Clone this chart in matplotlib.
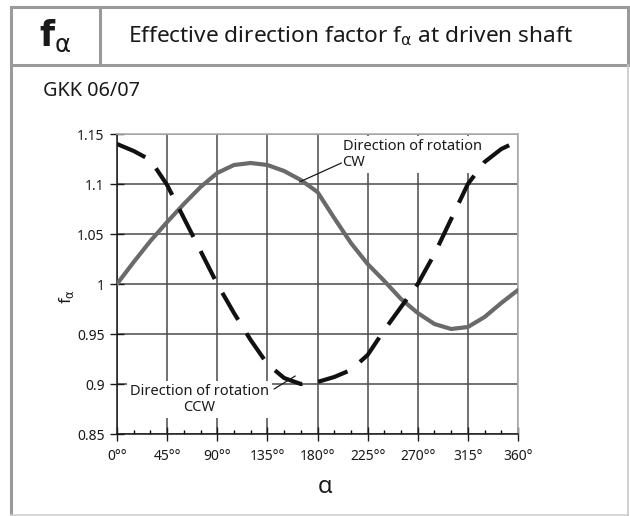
import numpy as np
import matplotlib
matplotlib.use('Agg')
import matplotlib.pyplot as plt
from matplotlib.patches import Rectangle
from matplotlib.lines import Line2D

plt.rcParams['font.family'] = ['Noto Sans', 'DejaVu Sans']
plt.rcParams['mathtext.fontset'] = 'dejavusans'

# angle of driven shaft (deg)
angles = [0, 15, 30, 45, 60, 75, 90, 105, 120, 135, 150, 165, 180,
          195, 210, 225, 240, 255, 270, 285, 300, 315, 330, 345, 360]
# direction of rotation CW
cw_vals = [1.000, 1.022, 1.043, 1.062, 1.080, 1.097, 1.111, 1.119, 1.121,
           1.119, 1.113, 1.104, 1.092, 1.066, 1.041, 1.020, 1.003, 0.985,
           0.971, 0.960, 0.955, 0.957, 0.967, 0.981, 0.994]
# direction of rotation CCW
ccw_vals = [1.140, 1.133, 1.124, 1.099, 1.066, 1.033, 1.000, 0.971, 0.944,
            0.920, 0.906, 0.900, 0.902, 0.907, 0.914, 0.929, 0.954, 0.977,
            1.000, 1.030, 1.065, 1.100, 1.122, 1.135, 1.143]

x_ticks = [0, 45, 90, 135, 180, 225, 270, 315, 360]
x_labels = ['0°°', '45°°', '90°°', '135°°', '180°°', '225°°', '270°°', '315°', '360°']
y_ticks = [0.85, 0.9, 0.95, 1.0, 1.05, 1.1, 1.15]
y_labels = ['0.85', '0.9', '0.95', '1', '1.05', '1.1', '1.15']

W, H = 630, 516
fig = plt.figure(figsize=(W / 100, H / 100), dpi=100)
txt_col = '#1a1a1a'

# frame and header drawn in pixel coords
bg = fig.add_axes([0, 0, 1, 1])
bg.set_xlim(0, W)
bg.set_ylim(H, 0)
bg.axis('off')
frame_col = '#9a9a9a'
bg.add_patch(Rectangle((11, 7), 617, 58, fill=False, ec=frame_col, lw=2.2))
bg.add_line(Line2D([100, 100], [7, 65], color=frame_col, lw=2.2))
bg.add_line(Line2D([11, 11], [65, 515], color=frame_col, lw=2.2))
bg.add_line(Line2D([11, 628], [515, 515], color='#d0d0d0', lw=1.2))
bg.add_line(Line2D([628, 628], [65, 515], color='#c8c8c8', lw=1.2))
bg.text(55, 36, r'$\mathbf{f}_{\mathrm{\alpha}}$', fontsize=25, ha='center',
        va='center', color=txt_col)
bg.text(128, 36, r'Effective direction factor f$_{\mathrm{\alpha}}$ at driven shaft',
        fontsize=16.3, ha='left', va='center', color=txt_col)
bg.text(43, 91, 'GKK 06/07', fontsize=14.3, ha='left', va='center', color=txt_col)

# main chart
ax = fig.add_axes([117 / W, 1 - 434 / H, 401 / W, 300 / H])
ax.set_xlim(0, 360)
ax.set_ylim(0.85, 1.15)

ax.set_xticks(x_ticks)
ax.set_xticklabels(x_labels)
ax.set_xticks(np.arange(0, 361, 15), minor=True)
ax.set_yticks(y_ticks)
ax.set_yticklabels(y_labels)
ax.tick_params(axis='x', which='major', direction='inout', length=10, width=1,
               labelsize=10, pad=6, colors=txt_col)
ax.tick_params(axis='x', which='minor', direction='in', length=3, width=1)
ax.tick_params(axis='y', which='major', direction='inout', length=10, width=1,
               labelsize=10, pad=4, colors=txt_col)
ax.grid(True, which='major', color='#4a4a4a', lw=1.1, zorder=1)
ax.set_axisbelow(True)

for s in ['top', 'right']:
    ax.spines[s].set_color('#b0b0b0')
    ax.spines[s].set_linewidth(1.2)
for s in ['left', 'bottom']:
    ax.spines[s].set_color(txt_col)
    ax.spines[s].set_linewidth(1.1)

ax.plot(angles, cw_vals, color='#6a6a6a', lw=3.0, zorder=4, solid_capstyle='round')
ax.plot(angles, ccw_vals, color='#111111', lw=3.0, zorder=4, dashes=(7.5, 3.8),
        dash_capstyle='butt')

# labels with leader lines
ax.text(202.5, 1.1295, 'Direction of rotation\nCW', fontsize=10.5, ha='left',
        va='center', linespacing=1.05, color=txt_col, zorder=3,
        bbox=dict(fc='white', ec='none', pad=2))
ax.annotate('', xy=(163.8, 1.102), xytext=(201.5, 1.121),
            arrowprops=dict(arrowstyle='-', lw=0.9, color=txt_col,
                            shrinkA=0, shrinkB=0), zorder=5)
ax.text(74, 0.8845, 'Direction of rotation\nCCW', fontsize=10.5, ha='center',
        va='center', linespacing=1.05, color=txt_col, zorder=3,
        bbox=dict(fc='white', ec='none', pad=2))
ax.annotate('', xy=(160, 0.908), xytext=(141, 0.895),
            arrowprops=dict(arrowstyle='-', lw=0.9, color=txt_col,
                            shrinkA=0, shrinkB=0), zorder=5)

# axis titles
ax.text(-0.125, 0.457, r'f$_{\mathrm{\alpha}}$', transform=ax.transAxes,
        rotation=90, fontsize=12, ha='center', va='center', color=txt_col)
ax.text(0.519, -0.177, 'α', transform=ax.transAxes, fontsize=17,
        ha='center', va='center', color=txt_col)

fig.savefig('out.png', dpi=100)
